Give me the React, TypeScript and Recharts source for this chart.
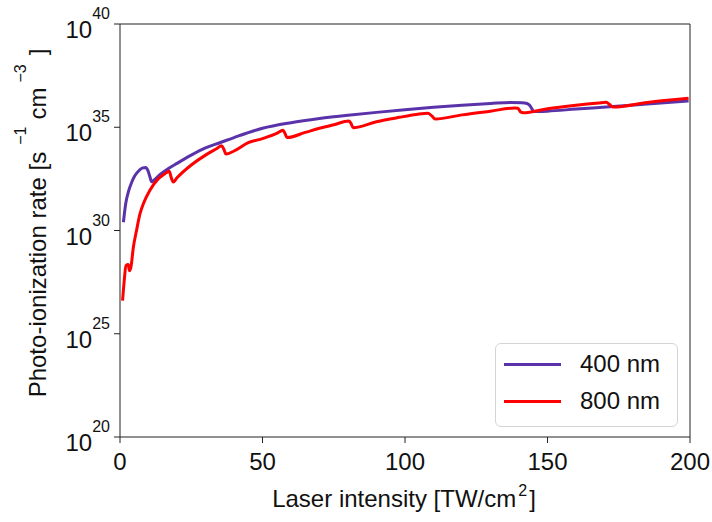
import { LineChart, Line, XAxis, YAxis, Legend } from 'recharts';

const FONT = '"Liberation Sans", Arial, sans-serif';
const PURPLE = '#5a33aa';
const RED = '#ff0000';

const xTicks = [0, 50, 100, 150, 200];
// exponents of ten on the rate axis
const yTicks = [20, 25, 30, 35, 40];

// 400 nm: intensity [TW/cm^2] and log10 of photo-ionization rate
const intensity400 = [1.2, 2, 3, 4, 5, 6, 7, 8, 9, 9.8, 10.5, 11.1, 12, 14, 17, 20, 25, 30, 35, 40, 50, 60, 70, 80, 90, 100, 110, 120, 130, 137, 141, 142.8, 143.8, 144.6, 145.2, 150, 160, 173, 185, 199.5];
const rate400 = [30.4, 31.3, 31.9, 32.3, 32.6, 32.8, 32.95, 33.03, 33.05, 32.9, 32.6, 32.36, 32.45, 32.7, 33.0, 33.25, 33.65, 34.0, 34.25, 34.5, 34.95, 35.22, 35.42, 35.58, 35.72, 35.85, 35.97, 36.07, 36.15, 36.2, 36.19, 36.15, 36.05, 35.88, 35.76, 35.78, 35.88, 36.0, 36.13, 36.27];

// 800 nm
const intensity800 = [0.9, 1.5, 2.1, 2.9, 3.3, 3.8, 4.7, 5.8, 7, 8.2, 10.5, 13.4, 15.5, 17.3, 18, 18.7, 20, 25, 30, 34, 35.6, 36.4, 37.2, 40, 45, 50, 55, 57.2, 57.9, 58.6, 65, 70, 75, 80.3, 81, 81.8, 90, 98, 104, 108, 109.4, 110.6, 120, 130, 138.5, 139.6, 140.5, 141.5, 150, 160, 168, 170.5, 171.6, 173, 185, 199.5];
const rate800 = [26.6, 27.6, 28.3, 28.35, 28.05, 28.2, 29.2, 30.0, 30.8, 31.3, 31.95, 32.5, 32.72, 32.87, 32.55, 32.35, 32.55, 33.17, 33.65, 33.97, 34.1, 33.95, 33.7, 33.85, 34.25, 34.45, 34.7, 34.85, 34.7, 34.5, 34.75, 34.95, 35.12, 35.3, 35.2, 34.98, 35.27, 35.48, 35.62, 35.68, 35.55, 35.4, 35.6, 35.78, 35.93, 35.92, 35.75, 35.7, 35.9, 36.07, 36.18, 36.21, 36.12, 35.98, 36.2, 36.4];

const data400 = intensity400.map((x, i) => ({ x, y: rate400[i] }));
const data800 = intensity800.map((x, i) => ({ x, y: rate800[i] }));

const PowerTick = ({ x, y, payload }: any) => (
  <text x={x} y={y} textAnchor="end" fontFamily={FONT} fontSize={24} fill="#111">
    <tspan dy={14}>10</tspan>
    <tspan dy={-19} fontSize={16}>{payload.value}</tspan>
  </text>
);

// mirrored axes keep their tick marks but show no labels
const NoLabel = () => null;

const XTitle = () => (
  <text x={404} y={507} textAnchor="middle" fontFamily={FONT} fontSize={24} fill="#111">
    Laser intensity [TW/cm
    <tspan dx={2} dy={-11} fontSize={16}>2</tspan>
    <tspan dx={2} dy={11}>]</tspan>
  </text>
);

const YTitle = () => (
  <text transform="translate(46,223) rotate(-90)" textAnchor="middle" fontFamily={FONT} fontSize={24} fill="#111">
    Photo-ionization rate [s
    <tspan dx={7} dy={-20} fontSize={16}>−1</tspan>
    <tspan dx={7} dy={20}>cm</tspan>
    <tspan dx={5} dy={-20} fontSize={16}>−3</tspan>
    <tspan dx={9} dy={20}>]</tspan>
  </text>
);

const LegendBox = ({ payload }: any) => (
  <div
    style={{
      boxSizing: 'border-box',
      width: 183,
      height: 84,
      border: '1px solid #d4d4d4',
      borderRadius: 6,
      background: '#fff',
      position: 'relative',
      fontFamily: FONT,
      fontSize: 24,
      color: '#111',
    }}
  >
    {(payload || []).map((entry: any, i: number) => (
      <div key={entry.value} style={{ position: 'absolute', left: 0, top: 6 + i * 37, height: 28, display: 'flex', alignItems: 'center' }}>
        <span style={{ display: 'inline-block', marginLeft: 8, width: 57, height: 3, background: entry.color }} />
        <span style={{ marginLeft: 19 }}>{entry.value}</span>
      </div>
    ))}
  </div>
);

export default function App() {
  return (
    <div style={{ position: 'absolute', left: 0, top: 0, background: '#fff' }}>
      <LineChart width={712} height={522} margin={{ top: 14, right: 12, bottom: 45, left: 50 }}>
        <XAxis
          xAxisId="bottom"
          dataKey="x"
          type="number"
          domain={[0, 200]}
          ticks={xTicks}
          height={40}
          tickSize={6}
          tickMargin={10}
          stroke="#222"
          tick={{ fontSize: 24, fontFamily: FONT, fill: '#111' }}
          label={<XTitle />}
        />
        <XAxis
          xAxisId="top"
          orientation="top"
          dataKey="x"
          type="number"
          domain={[0, 200]}
          ticks={xTicks}
          height={10}
          tickSize={6}
          stroke="#222"
          tick={NoLabel}
        />
        <YAxis
          yAxisId="left"
          type="number"
          domain={[20, 40]}
          ticks={yTicks}
          width={70}
          tickSize={6}
          tickMargin={4}
          stroke="#222"
          tick={<PowerTick />}
          label={<YTitle />}
        />
        <YAxis
          yAxisId="right"
          orientation="right"
          type="number"
          domain={[20, 40]}
          ticks={yTicks}
          width={10}
          tickSize={6}
          stroke="#222"
          tick={NoLabel}
        />
        <Legend
          layout="horizontal"
          verticalAlign="middle"
          align="center"
          content={<LegendBox />}
          wrapperStyle={{ left: 495, top: 343, width: 183, height: 84 }}
        />
        <Line
          xAxisId="bottom"
          yAxisId="left"
          data={data400}
          dataKey="y"
          name="400 nm"
          type="monotone"
          stroke={PURPLE}
          strokeWidth={3}
          dot={false}
          isAnimationActive={false}
        />
        <Line
          xAxisId="bottom"
          yAxisId="left"
          data={data800}
          dataKey="y"
          name="800 nm"
          type="monotone"
          stroke={RED}
          strokeWidth={3}
          dot={false}
          isAnimationActive={false}
        />
      </LineChart>
    </div>
  );
}
